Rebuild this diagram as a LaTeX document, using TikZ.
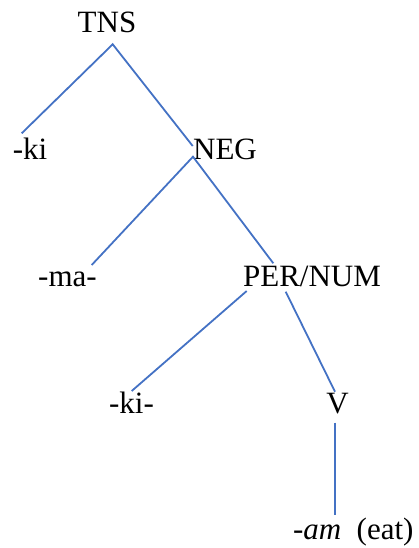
\documentclass[tikz,border=0pt]{standalone}
\usepackage{fontspec}
\setmainfont{Liberation Serif}
\begin{document}
\begin{tikzpicture}[x=1pt,y=-1pt,
  lbl/.style={inner sep=0pt,outer sep=0pt,anchor=base,font=\fontsize{31}{36}\selectfont},
  edge/.style={draw={rgb,255:red,68;green,114;blue,196},line width=1.8pt}]
\useasboundingbox (0,0) rectangle (419,548);
% labels
\node[lbl] (tns) at (107,33) {TNS};
\node[lbl] (ki1) at (30,160) {-ki};
\node[lbl] (neg) at (225,160) {NEG};
\node[lbl] (ma) at (67.5,286.7) {-ma-};
\node[lbl] (pn) at (312,286.7) {PER/NUM};
\node[lbl] (ki2) at (131.5,413) {-ki-};
\node[lbl] (v) at (337.5,413) {V};
\node[lbl,anchor=base west] (am) at (293,539) {-\textit{am}\ \ (eat)};
% connector end points
\coordinate (tnsB) at (112.7,44.3);
\coordinate (ki1T) at (21.7,133.3);
\coordinate (negT) at (192.7,146);
\coordinate (negB) at (193,156.7);
\coordinate (maT) at (91.7,265);
\coordinate (pnT) at (273.3,263.3);
\coordinate (pnL) at (246.7,291);
\coordinate (pnR) at (285.7,291.7);
\coordinate (ki2T) at (131.7,391);
\coordinate (vT) at (335,391.7);
\coordinate (vB) at (335,422.7);
\coordinate (amT) at (335,515);
% connectors
\draw[edge] (ki1T) -- (tnsB) -- (negT);
\draw[edge] (maT) -- (negB) -- (pnT);
\draw[edge] (pnL) -- (ki2T);
\draw[edge] (pnR) -- (vT);
\draw[edge] (vB) -- (amT);
\end{tikzpicture}
\end{document}
